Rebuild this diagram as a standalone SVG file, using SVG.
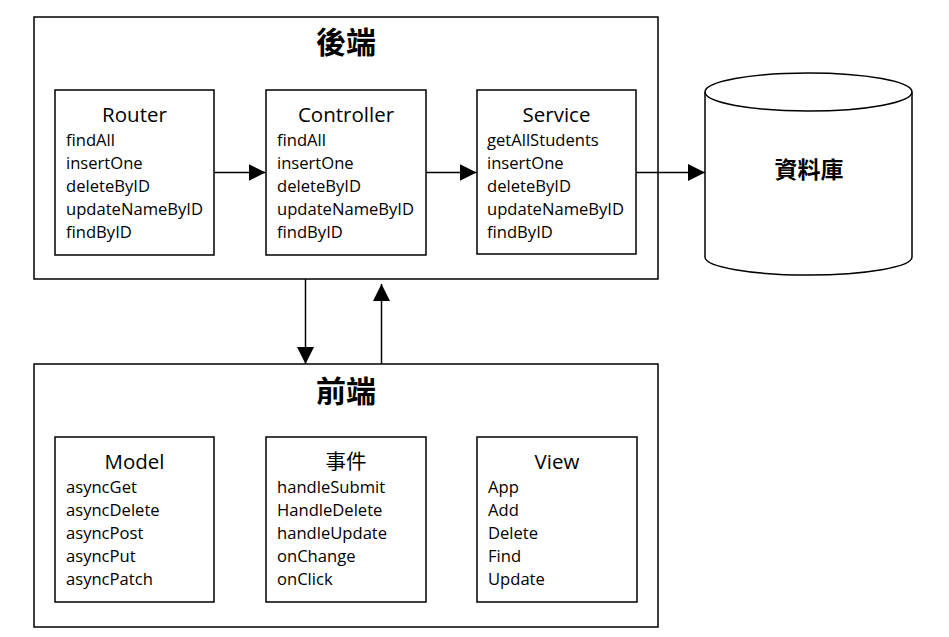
<svg xmlns="http://www.w3.org/2000/svg" width="949" height="637" viewBox="0 0 949 637">
<style>
.box{fill:#fff;stroke:#000;stroke-width:1.5}
.hd{font-family:"Open Sans","Noto Sans CJK TC",sans-serif;font-size:20.5px;text-anchor:middle;fill:#000}
.it{font-family:"Open Sans","Noto Sans CJK TC",sans-serif;font-size:16.6px;fill:#000}
.ttl{font-family:"Noto Sans CJK TC",sans-serif;font-size:30px;font-weight:bold;text-anchor:middle;fill:#000}
.db{font-family:"Noto Sans CJK TC",sans-serif;font-size:23px;font-weight:bold;text-anchor:middle;fill:#000}
.ln{stroke:#000;stroke-width:1.5;fill:none;marker-end:url(#ah)}
</style>
<defs>
<marker id="ah" markerUnits="userSpaceOnUse" markerWidth="17" markerHeight="17" viewBox="0 0 16 16" refX="16" refY="8" orient="auto">
<path d="M0,0 L16,8 L0,16 Z" fill="#000"/>
</marker>
</defs>
<rect width="949" height="637" fill="#fff"/>

<g id="backend">
<rect class="box" x="34" y="17" width="624" height="262"/>
<text class="ttl" x="346" y="53">後端</text>
</g>
<g id="frontend">
<rect class="box" x="34" y="364" width="624" height="263"/>
<text class="ttl" x="346" y="402">前端</text>
</g>

<g id="router">
<rect class="box" x="55" y="90" width="159" height="165"/>
<text class="hd" x="134.5" y="121.5">Router</text>
<text class="it" x="66" y="146">findAll</text>
<text class="it" x="66" y="169">insertOne</text>
<text class="it" x="66" y="192">deleteByID</text>
<text class="it" x="66" y="215">updateNameByID</text>
<text class="it" x="66" y="238">findByID</text>
</g>
<g id="controller">
<rect class="box" x="266" y="90" width="160" height="165"/>
<text class="hd" x="346" y="121.5">Controller</text>
<text class="it" x="277" y="146">findAll</text>
<text class="it" x="277" y="169">insertOne</text>
<text class="it" x="277" y="192">deleteByID</text>
<text class="it" x="277" y="215">updateNameByID</text>
<text class="it" x="277" y="238">findByID</text>
</g>
<g id="service">
<rect class="box" x="477" y="90" width="159" height="164"/>
<text class="hd" x="556.5" y="121.5">Service</text>
<text class="it" x="487" y="146">getAllStudents</text>
<text class="it" x="487" y="169">insertOne</text>
<text class="it" x="487" y="192">deleteByID</text>
<text class="it" x="487" y="215">updateNameByID</text>
<text class="it" x="487" y="238">findByID</text>
</g>
<g id="database">
<path class="box" d="M705,92 A103.5,19 0 0 1 912,92 L912,257 A103.5,18 0 0 1 705,257 Z"/>
<path d="M705,92 A103.5,19 0 0 0 912,92" fill="none" stroke="#000" stroke-width="1.5"/>
<text class="db" x="809" y="178">資料庫</text>
</g>

<g id="model">
<rect class="box" x="55" y="437" width="159" height="165"/>
<text class="hd" x="134.5" y="468.5">Model</text>
<text class="it" x="66" y="493">asyncGet</text>
<text class="it" x="66" y="516">asyncDelete</text>
<text class="it" x="66" y="539">asyncPost</text>
<text class="it" x="66" y="562">asyncPut</text>
<text class="it" x="66" y="585">asyncPatch</text>
</g>
<g id="events">
<rect class="box" x="266" y="437" width="160" height="165"/>
<text class="hd" x="346" y="468.5">事件</text>
<text class="it" x="277" y="493">handleSubmit</text>
<text class="it" x="277" y="516">HandleDelete</text>
<text class="it" x="277" y="539">handleUpdate</text>
<text class="it" x="277" y="562">onChange</text>
<text class="it" x="277" y="585">onClick</text>
</g>
<g id="view">
<rect class="box" x="477" y="437" width="160" height="165"/>
<text class="hd" x="557" y="468.5">View</text>
<text class="it" x="488" y="493">App</text>
<text class="it" x="488" y="516">Add</text>
<text class="it" x="488" y="539">Delete</text>
<text class="it" x="488" y="562">Find</text>
<text class="it" x="488" y="585">Update</text>
</g>

<g id="connectors">
<line class="ln" x1="214" y1="172.5" x2="265.5" y2="172.5"/>
<line class="ln" x1="426" y1="172.5" x2="476.5" y2="172.5"/>
<line class="ln" x1="636" y1="172.5" x2="705" y2="172.5"/>
<line class="ln" x1="305.5" y1="279" x2="305.5" y2="364"/>
<line class="ln" x1="381.5" y1="364" x2="381.5" y2="284"/>
</g>
</svg>
